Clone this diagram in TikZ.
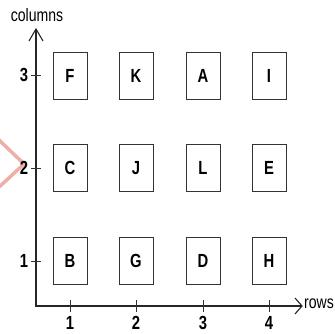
\documentclass[tikz,border=0pt]{standalone}
\usepackage{fontspec}
\setmainfont[FakeStretch=0.78]{Liberation Sans}
\usetikzlibrary{arrows.meta}
\begin{document}
\begin{tikzpicture}[x=1pt,y=-1pt,
  axis/.style={line width=1.1pt,draw=black!85},
  cell/.style={draw=black!80,line width=1pt,minimum width=34pt,minimum height=47pt,inner sep=0pt,font=\fontsize{19}{19}\selectfont\bfseries},
  tick/.style={line width=0.9pt,draw=black!80},
  lab/.style={font=\fontsize{19}{19}\selectfont\bfseries,inner sep=0pt},
  axlab/.style={font=\fontsize{18}{18}\selectfont,inner sep=0pt}]
\useasboundingbox (0,0) rectangle (335,333);
% pink chevron artifact
\draw[draw={rgb,255:red,236;green,176;blue,166},line width=3.5pt] (-2,139) -- (24,164) -- (-2,188);
% axes
\coordinate (O) at (36,306);
\coordinate (ytop) at (36,29);
\coordinate (xend) at (302,306);
\draw[axis] (ytop) -- (O) -- (xend);
\draw[axis] (29,41) -- (ytop) -- (43,41);
\draw[axis] (295,298) -- (xend) -- (295,314);
\node[axlab,anchor=west] (rows) at (304,304) {rows};
\node[axlab] (cols) at (37,15) {columns};
% ticks
\foreach \x/\n in {70/1,136/2,203/3,269/4}{
  \draw[tick] (\x,300) -- (\x,312);
  \node[lab] (xl\n) at (\x,323) {\n};
}
\foreach \y/\n in {261/1,168/2,75/3}{
  \draw[tick] (31,\y) -- (41,\y);
  \node[lab] (yl\n) at (24,\y) {\n};
}
% cells
\node[cell] (F) at (70,75.5) {F};
\node[cell] (K) at (136,75.5) {K};
\node[cell] (A) at (203,75.5) {A};
\node[cell] (I) at (269,75.5) {I};
\node[cell] (C) at (70,168) {C};
\node[cell] (J) at (136,168) {J};
\node[cell] (L) at (203,168) {L};
\node[cell] (E) at (269,168) {E};
\node[cell] (B) at (70,261) {B};
\node[cell] (G) at (136,261) {G};
\node[cell] (D) at (203,261) {D};
\node[cell] (H) at (269,261) {H};
\end{tikzpicture}
\end{document}
